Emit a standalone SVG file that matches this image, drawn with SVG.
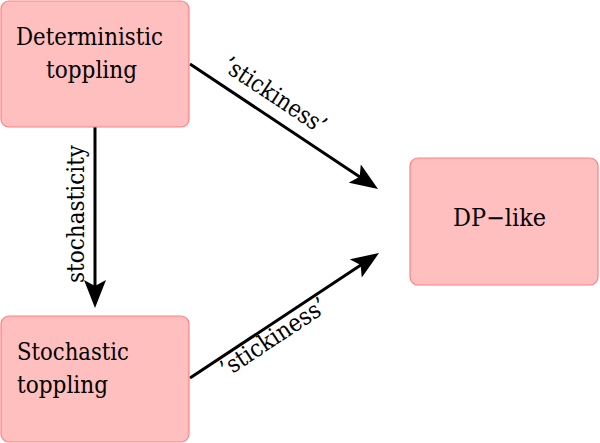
<svg xmlns="http://www.w3.org/2000/svg" width="600" height="443" viewBox="0 0 600 443">
<style>
.box{fill:#ffbfbf;stroke:#ff8080;stroke-width:1.2}
.t{font-family:'DejaVu Serif',serif;font-size:24px;fill:#000}
.c{fill:none;stroke:#000;stroke-width:3}
</style>
<defs>
<marker id="ah" viewBox="0 0 28 22" refX="18" refY="11" markerWidth="28" markerHeight="22" markerUnits="userSpaceOnUse" orient="auto">
<path d="M0,0 L28,11 L0,22 L6,11 z" fill="#000"/>
</marker>
</defs>
<rect x="0" y="0" width="600" height="443" fill="#fff"/>
<g id="connectors">
<path class="c" d="M190,64 L369.7,183.5" marker-end="url(#ah)"/>
<path class="c" d="M190,378 L370.7,258.5" marker-end="url(#ah)"/>
<path class="c" d="M95,127 L95,298" marker-end="url(#ah)"/>
<text class="t" transform="translate(263.3,112.7) rotate(33.6)" x="-59" y="-13" textLength="118" lengthAdjust="spacingAndGlyphs">’stickiness’</text>
<text class="t" transform="translate(266.7,327.3) rotate(-33.5)" x="-61" y="20" textLength="122" lengthAdjust="spacingAndGlyphs">’stickiness’</text>
<text class="t" transform="translate(84,214) rotate(-90)" x="-69" y="0" textLength="138" lengthAdjust="spacingAndGlyphs">stochasticity</text>
</g>
<g id="deterministic">
<rect class="box" x="1" y="1" width="188" height="126" rx="8"/>
<text class="t" x="16" y="45" textLength="147" lengthAdjust="spacingAndGlyphs">Deterministic</text>
<text class="t" x="46" y="78" textLength="91" lengthAdjust="spacingAndGlyphs">toppling</text>
</g>
<g id="stochastic">
<rect class="box" x="1" y="316" width="188" height="126" rx="8"/>
<text class="t" x="17" y="360" textLength="112" lengthAdjust="spacingAndGlyphs">Stochastic</text>
<text class="t" x="17" y="393" textLength="91" lengthAdjust="spacingAndGlyphs">toppling</text>
</g>
<g id="dplike">
<rect class="box" x="410" y="158" width="188" height="127" rx="8"/>
<text class="t" x="453" y="226" textLength="93" lengthAdjust="spacingAndGlyphs">DP−like</text>
</g>
</svg>
